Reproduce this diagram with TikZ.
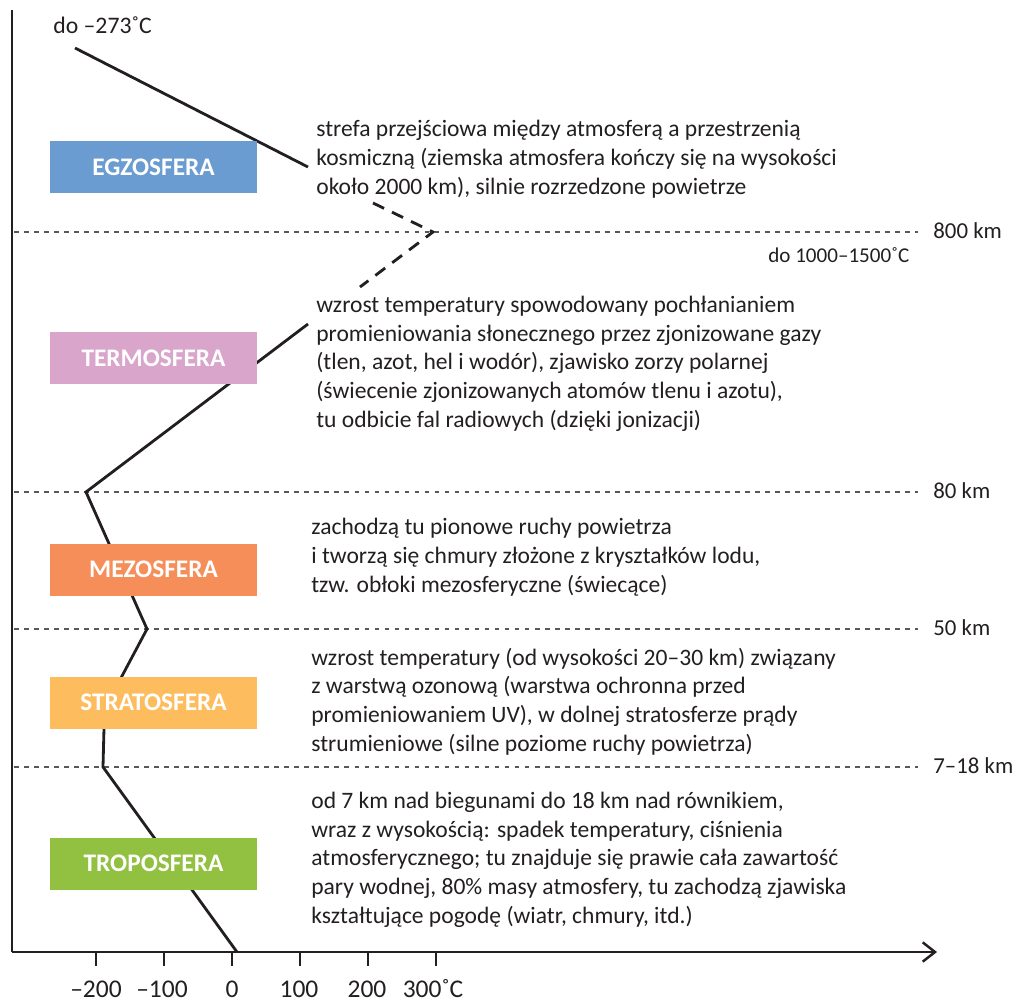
\documentclass[tikz,border=0pt]{standalone}
\usepackage{fontspec}
\setmainfont{Carlito}
\usepackage{xcolor}
\usetikzlibrary{arrows.meta}

\definecolor{ink}{RGB}{35,31,32}
\definecolor{egzo}{RGB}{106,155,209}
\definecolor{termo}{RGB}{217,165,203}
\definecolor{mezo}{RGB}{246,142,90}
\definecolor{strato}{RGB}{253,189,94}
\definecolor{tropo}{RGB}{146,192,65}

\begin{document}
\begin{tikzpicture}[
        x=0.02cm, y=-0.02cm,
        layer/.style={rectangle, minimum width=4.14cm, minimum height=1.04cm, inner sep=0pt, text=white, font=\fontsize{14.4}{16}\selectfont\bfseries},
        desc/.style={anchor=base west, align=left, inner sep=0pt, text=ink, font=\fontsize{13.4}{16.3}\selectfont},
        lbl/.style={anchor=base west, inner sep=0pt, text=ink, font=\fontsize{13}{15}\selectfont},
        ticklbl/.style={anchor=base, inner sep=0pt, text=ink, font=\fontsize{14.5}{16}\selectfont},
        kmline/.style={draw=ink!75, line width=0.7pt, dash pattern=on 2.7pt off 3pt},
        temp/.style={draw=ink, line width=1.6pt, line join=miter},
        axisline/.style={draw=ink, line width=1.6pt}
    ]
        \useasboundingbox (0,0) rectangle (1018,1001);

        % Axes
        \coordinate (origin) at (12,952);
        \coordinate (ytop) at (12,10);
        \coordinate (xend) at (937,952);
        \draw[axisline] (ytop) -- (origin);
        \draw[axisline, -{Straight Barb[length=7pt, width=11pt, line width=1.4pt]}] (origin) -- (xend);
        \foreach \t in {0,...,5}
            \draw[axisline, line width=1pt] (96+68*\t,952) -- (96+68*\t,966);
        \foreach \t/\x/\lab in {0/96/--200, 1/162/--100, 2/232/0, 3/299/100, 4/367/200, 5/433/300˚C}
            \node[ticklbl] (tick\t) at (\x,997) {\lab};

        % Height levels
        \foreach \y/\km in {232/800 km, 492/80 km, 629/50 km, 767/7--18 km} {
            \draw[kmline] (14,\y) -- (918,\y);
            \node[lbl] at (933,\y+6) {\km};
        }

        % Temperature profile
        \coordinate (t1) at (75,48);
        \coordinate (t2) at (308,167);
        \coordinate (t3) at (373,203);
        \coordinate (t4) at (433,232);
        \coordinate (t5) at (360,287);
        \coordinate (t6) at (308,324);
        \coordinate (t7) at (86,492);
        \coordinate (t8) at (147,629);
        \coordinate (t9) at (104.5,709);
        \coordinate (t10) at (103,767);
        \coordinate (t11) at (237,952);
        \draw[temp] (t1) -- (t2);
        \draw[temp, dash pattern=on 7pt off 5pt] (t3) -- (t4) -- (t5);
        \draw[temp] (t6) -- (t7) -- (t8) -- (t9) -- (t10) -- (t11);
        \node[lbl, font=\fontsize{13.5}{15}\selectfont] (tmin) at (53,33) {do --273˚C};
        \node[lbl, font=\fontsize{12}{14}\selectfont] (tmax) at (768,262) {do 1000--1500˚C};

        % Layers
        \node[layer, fill=egzo] (egzosfera) at (153.5,167) {EGZOSFERA};
        \node[layer, fill=termo] (termosfera) at (153.5,358) {TERMOSFERA};
        \node[layer, fill=mezo] (mezosfera) at (153.5,569.5) {MEZOSFERA};
        \node[layer, fill=strato] (stratosfera) at (153.5,702.5) {STRATOSFERA};
        \node[layer, fill=tropo] (troposfera) at (153.5,863.5) {TROPOSFERA};

        % Descriptions (anchored at the last line)
        \node[desc] (egzotext) at (316,194) {strefa przejściowa między atmosferą a przestrzenią\\
            kosmiczną (ziemska atmosfera kończy się na wysokości\\
            około 2000 km), silnie rozrzedzone powietrze};
        \node[desc] (termotext) at (316,427) {wzrost temperatury spowodowany pochłanianiem\\
            promieniowania słonecznego przez zjonizowane gazy\\
            (tlen, azot, hel i wodór), zjawisko zorzy polarnej\\
            (świecenie zjonizowanych atomów tlenu i azotu),\\
            tu odbicie fal radiowych (dzięki jonizacji)};
        \node[desc] (mezotext) at (311,592) {zachodzą tu pionowe ruchy powietrza\\
            i tworzą się chmury złożone z kryształków lodu,\\
            tzw. obłoki mezosferyczne (świecące)};
        \node[desc] (stratotext) at (311,751) {wzrost temperatury (od wysokości 20--30 km) związany\\
            z warstwą ozonową (warstwa ochronna przed\\
            promieniowaniem UV), w dolnej stratosferze prądy\\
            strumieniowe (silne poziome ruchy powietrza)};
        \node[desc] (tropotext) at (311,923) {od 7 km nad biegunami do 18 km nad równikiem,\\
            wraz z wysokością: spadek temperatury, ciśnienia\\
            atmosferycznego; tu znajduje się prawie cała zawartość\\
            pary wodnej, 80\% masy atmosfery, tu zachodzą zjawiska\\
            kształtujące pogodę (wiatr, chmury, itd.)};
    \end{tikzpicture}
\end{document}
